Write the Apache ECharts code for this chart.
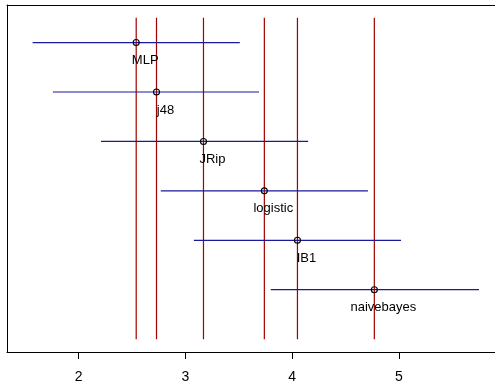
<!DOCTYPE html>
<html>
<head>
<meta charset="utf-8">
<script src="https://cdn.jsdelivr.net/npm/echarts@6/dist/echarts.min.js"></script>
<style>
  html, body { margin: 0; padding: 0; background: #fff; }
  #chart { width: 495px; height: 385px; }
</style>
</head>
<body>
<div id="chart"></div>
<script>
// mean ranks and confidence intervals, top to bottom
const methods = ['MLP', 'j48', 'JRip', 'logistic', 'IB1', 'naivebayes'];
const meanRanks = [2.54, 2.73, 3.17, 3.74, 4.05, 4.77];
const ciLow = [1.57, 1.76, 2.21, 2.77, 3.08, 3.80];
const ciHigh = [3.51, 3.69, 4.15, 4.71, 5.02, 5.75];
const xTicks = [2, 3, 4, 5];

const chart = echarts.init(document.getElementById('chart'));

const rowData = methods.map((m, i) => [ciLow[i], ciHigh[i], i + 1, meanRanks[i], m]);
const vlineData = meanRanks.map(v => [v]);

const option = {
  animation: false,
  backgroundColor: '#fff',
  grid: { left: 7, right: -2, top: 5, bottom: 33 },
  xAxis: [
    {
      type: 'value',
      position: 'bottom',
      min: 1.33,
      max: 5.90,
      axisLine: { show: true, lineStyle: { color: '#000', width: 1 } },
      axisTick: { show: true, length: 7, lineStyle: { color: '#000' }, customValues: xTicks },
      axisLabel: {
        customValues: xTicks,
        margin: 18,
        color: '#000',
        fontSize: 14,
        fontFamily: 'Liberation Sans, Arial, sans-serif'
      },
      splitLine: { show: false }
    },
    {
      type: 'value',
      position: 'top',
      min: 1.33,
      max: 5.90,
      axisLine: { show: true, lineStyle: { color: '#000', width: 1 } },
      axisTick: { show: false },
      axisLabel: { show: false },
      splitLine: { show: false }
    }
  ],
  yAxis: {
    type: 'value',
    inverse: true,
    min: 0.24,
    max: 7.26,
    axisLine: { show: true, lineStyle: { color: '#000', width: 1 } },
    axisTick: { show: false },
    axisLabel: { show: false },
    splitLine: { show: false }
  },
  series: [
    // vertical mean rank lines
    {
      type: 'custom',
      silent: true,
      data: vlineData,
      renderItem: (params, api) => {
        const p1 = api.coord([api.value(0), 0.5]);
        const p2 = api.coord([api.value(0), 7]);
        return {
          type: 'line',
          shape: { x1: p1[0], y1: p1[1], x2: p2[0], y2: p2[1] },
          style: { stroke: '#a00000', lineWidth: 1.2 }
        };
      }
    },
    // interval lines, points and labels
    {
      type: 'custom',
      silent: true,
      data: rowData,
      renderItem: (params, api) => {
        const y = api.value(2);
        const a = api.coord([api.value(0), y]);
        const b = api.coord([api.value(1), y]);
        const c = api.coord([api.value(3), y]);
        const name = methods[params.dataIndex];
        return {
          type: 'group',
          children: [
            {
              type: 'line',
              shape: { x1: a[0], y1: a[1], x2: b[0], y2: b[1] },
              style: { stroke: '#1a1a9a', lineWidth: 1.2 }
            },
            {
              type: 'circle',
              shape: { cx: c[0], cy: c[1], r: 3 },
              style: { fill: 'none', stroke: '#000', lineWidth: 1.1 }
            },
            {
              type: 'text',
              x: c[0] + 9,
              y: c[1] + 18,
              style: {
                text: name,
                align: 'center',
                verticalAlign: 'middle',
                fill: '#000',
                fontSize: 13,
                fontFamily: 'Liberation Sans, Arial, sans-serif'
              }
            }
          ]
        };
      }
    }
  ]
};

chart.setOption(option);
</script>
</body>
</html>
